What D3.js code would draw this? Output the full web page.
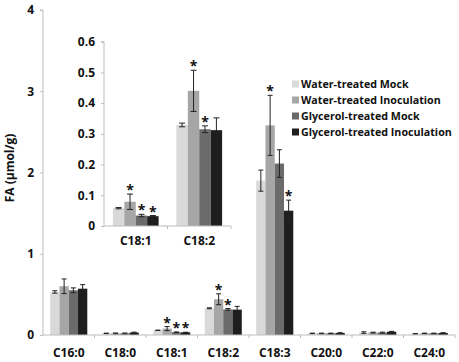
<!DOCTYPE html>
<html lang="en">

<head>
    <meta charset="utf-8">
    <script src='https://d3js.org/d3.v7.min.js'></script>
    <style>
        body { margin: 0; background: #fff; }
        text { font-family: "Open Sans", "DejaVu Sans", sans-serif; font-weight: bold; fill: #111; }
    </style>
</head>

<body>
    <script>
        // Data
        const categories = ["C16:0", "C18:0", "C18:1", "C18:2", "C18:3", "C20:0", "C22:0", "C24:0"];
        const insetCategories = ["C18:1", "C18:2"];
        const seriesNames = ["Water-treated Mock", "Water-treated Inoculation", "Glycerol-treated Mock", "Glycerol-treated Inoculation"];
        const waterMock = [0.53, 0.02, 0.058, 0.329, 1.90, 0.02, 0.03, 0.015];
        const waterInoc = [0.60, 0.02, 0.079, 0.44, 2.58, 0.02, 0.03, 0.02];
        const glycMock = [0.55, 0.02, 0.034, 0.315, 2.11, 0.02, 0.03, 0.02];
        const glycInoc = [0.57, 0.03, 0.032, 0.312, 1.53, 0.025, 0.04, 0.025];
        const waterMockErr = [0.015, 0.003, 0.002, 0.006, 0.13, 0.003, 0.01, 0.003];
        const waterInocErr = [0.09, 0.005, 0.025, 0.067, 0.37, 0.003, 0.005, 0.003];
        const glycMockErr = [0.03, 0.005, 0.004, 0.011, 0.17, 0.003, 0.005, 0.003];
        const glycInocErr = [0.05, 0.005, 0.002, 0.04, 0.13, 0.003, 0.005, 0.003];
        const waterInocSig = [0, 0, 1, 1, 1, 0, 0, 0];
        const glycMockSig = [0, 0, 1, 1, 0, 0, 0, 0];
        const glycInocSig = [0, 0, 1, 0, 1, 0, 0, 0];
        const waterMockSig = [0, 0, 0, 0, 0, 0, 0, 0];
        const mainTicks = [0, 1, 2, 3, 4];
        const insetTicks = [0, 0.1, 0.2, 0.3, 0.4, 0.5, 0.6];

        const colors = ["#d9d9d9", "#a6a6a6", "#6b6b6b", "#1e1e1e"];
        const axisColor = "#bdbdbd";

        const means = [waterMock, waterInoc, glycMock, glycInoc];
        const errs = [waterMockErr, waterInocErr, glycMockErr, glycInocErr];
        const sigs = [waterMockSig, waterInocSig, glycMockSig, glycInocSig];

        // flatten into rows for binding
        const rows = [];
        categories.forEach((c, i) => {
            seriesNames.forEach((s, j) => {
                rows.push({ cat: c, series: s, si: j, v: means[j][i], e: errs[j][i], sig: sigs[j][i] });
            });
        });

        const svg = d3.select("body").append("svg")
            .attr("width", 459).attr("height", 362);

        function drawPanel(cats, yDomain, ticks, xr, yr, opts) {
            const g = svg.append("g");
            const x = d3.scaleBand().domain(cats).range(xr)
                .paddingInner(0.28).paddingOuter(0.14);
            const x1 = d3.scaleBand().domain(seriesNames).range([0, x.bandwidth()]);
            const y = d3.scaleLinear().domain(yDomain).range(yr);
            const data = rows.filter(d => cats.includes(d.cat));

            // bars
            g.selectAll("rect.bar").data(data).enter().append("rect")
                .attr("x", d => x(d.cat) + x1(d.series))
                .attr("y", d => y(d.v))
                .attr("width", x1.bandwidth())
                .attr("height", d => y(0) - y(d.v))
                .attr("fill", d => colors[d.si]);

            // error bars
            const eb = g.selectAll("g.err").data(data).enter().append("g")
                .attr("stroke", "#222").attr("stroke-width", 1);
            const cx = d => x(d.cat) + x1(d.series) + x1.bandwidth() / 2;
            eb.append("line")
                .attr("x1", cx).attr("x2", cx)
                .attr("y1", d => y(d.v + d.e)).attr("y2", d => y(d.v - d.e));
            eb.append("line")
                .attr("x1", d => cx(d) - opts.cap).attr("x2", d => cx(d) + opts.cap)
                .attr("y1", d => y(d.v + d.e)).attr("y2", d => y(d.v + d.e));
            eb.append("line")
                .attr("x1", d => cx(d) - opts.cap).attr("x2", d => cx(d) + opts.cap)
                .attr("y1", d => y(d.v - d.e)).attr("y2", d => y(d.v - d.e));

            // stars
            g.selectAll("text.star").data(data.filter(d => d.sig)).enter().append("text")
                .attr("x", cx)
                .attr("y", d => y(d.v + d.e) + 1)
                .attr("text-anchor", "middle")
                .style("font-size", "14px")
                .text("*");

            // y axis
            const ya = g.append("g")
                .attr("transform", `translate(${xr[0]},0)`)
                .call(d3.axisLeft(y).tickValues(ticks).tickSize(3).tickPadding(6)
                    .tickFormat(d => d3.format("")(+d.toFixed(1))));
            ya.select(".domain").attr("stroke", axisColor).attr("d", `M-3,${yr[1]}H0V${yr[0]}`);
            ya.selectAll(".tick line").attr("stroke", axisColor);
            ya.selectAll(".tick text").style("font-size", "12px").style("font-family", null).attr("fill", "#111");

            // x axis
            const xa = g.append("g")
                .attr("transform", `translate(0,${yr[0]})`)
                .call(d3.axisBottom(x).tickSize(0).tickPadding(opts.labelPad));
            xa.select(".domain").attr("stroke", axisColor).attr("d", `M${xr[0]},0H${xr[1]}`);
            xa.selectAll(".tick text").style("font-size", "12px").style("font-family", null).attr("fill", "#111");
            // boundary tick marks between categories
            g.selectAll("line.xt").data(cats.slice(1).concat(["end"])).enter().append("line")
                .attr("x1", (d, i) => i < cats.length - 1 ? x(d) - x.step() * 0.14 : xr[1])
                .attr("x2", (d, i) => i < cats.length - 1 ? x(d) - x.step() * 0.14 : xr[1])
                .attr("y1", yr[0]).attr("y2", yr[0] + 3)
                .attr("stroke", axisColor);
        }

        // main chart
        drawPanel(categories, [0, 4], mainTicks, [43, 455], [335, 10], { cap: 2.5, labelPad: 13 });

        // inset
        drawPanel(insetCategories, [0, 0.6], insetTicks, [104, 231], [226, 41.7], { cap: 3, labelPad: 10 });

        // y label
        svg.append("text")
            .attr("transform", "translate(14,168) rotate(-90)")
            .attr("text-anchor", "middle")
            .style("font-size", "12px")
            .text("FA (\u03bcmol/g)");

        // legend
        const legend = svg.append("g").attr("transform", "translate(292,84)");
        const li = legend.selectAll("g").data(seriesNames).enter().append("g")
            .attr("transform", (d, i) => `translate(0,${i * 16})`);
        li.append("rect").attr("x", 0).attr("y", -3.5).attr("width", 7).attr("height", 7)
            .attr("fill", (d, i) => colors[i]);
        li.append("text").attr("x", 9).attr("y", 4)
            .style("font-size", "10.7px")
            .text(d => d);
    </script>
</body>

</html>
